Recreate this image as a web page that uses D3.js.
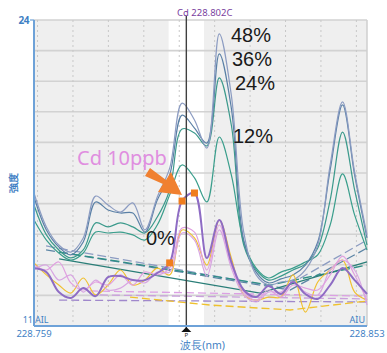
<!DOCTYPE html>
<html><head><meta charset="utf-8">
<script src="https://cdn.jsdelivr.net/npm/d3@7"></script>
<style>
html,body{margin:0;padding:0;background:#fff;}
svg{display:block;font-family:"Noto Sans","DejaVu Sans",sans-serif;}
</style></head>
<body><svg id="chart" width="387" height="353"></svg>
<script>
// ---- data ----
const wavelengths = [228.7590, 228.7625, 228.7660, 228.7694, 228.7729, 228.7764, 228.7799, 228.7834, 228.7869, 228.7903, 228.7938, 228.7973, 228.8008, 228.8043, 228.8078, 228.8113, 228.8147, 228.8182, 228.8217, 228.8252, 228.8287, 228.8321, 228.8356, 228.8391, 228.8426, 228.8461, 228.8495, 228.8530];

const std48 = [16.65,15.21,14.44,14.14,14.74,16.52,16.14,15.84,16.23,15.08,16.48,17.71,20.47,19.75,18.56,23.41,20.81,14.99,13.17,12.74,12.87,12.95,13.38,14.44,17.84,20.52,17.54,14.87];
const std36 = [16.48,15.08,14.36,14.02,14.57,16.27,15.93,15.80,15.80,14.99,16.35,17.42,19.96,19.41,18.77,22.56,20.26,14.65,13.29,12.83,13.00,13.17,13.59,14.57,17.63,20.39,17.42,14.74];
const std24 = [16.14,14.87,14.23,13.89,14.23,15.38,15.21,15.38,15.21,14.95,15.63,16.78,19.37,19.20,18.65,21.54,19.54,14.44,13.38,12.95,13.12,13.38,13.63,14.31,16.35,19.24,16.78,14.44];
const std12 = [15.50,14.65,14.10,13.80,14.10,14.99,14.95,14.99,14.87,14.65,15.29,16.57,17.84,17.29,16.27,19.03,17.42,14.57,13.46,13.04,13.29,13.46,13.72,14.02,15.29,17.46,15.72,14.23];
const zeroPurple = [13.46,13.29,12.44,12.19,12.61,12.27,13.08,13.12,12.95,12.95,13.25,13.68,16.31,16.65,13.89,15.50,13.72,12.53,12.23,12.70,12.36,12.87,12.36,12.15,12.74,13.46,12.95,12.36];
const zeroPinkA = [13.59,13.38,13.72,12.83,12.53,12.87,12.74,13.17,12.74,13.29,13.17,13.46,15.16,14.99,13.38,15.29,13.59,12.44,12.10,12.53,12.23,12.74,12.61,12.53,13.17,13.97,13.17,12.10];
const zeroPinkB = [13.38,13.59,12.95,13.17,12.44,12.95,12.53,12.61,12.95,12.83,13.29,13.29,14.95,14.65,13.12,15.08,13.46,12.32,12.02,12.44,12.44,12.87,12.44,12.32,13.38,13.80,13.38,11.89];
const zeroYellow = [13.68,13.17,12.74,12.40,13.04,12.32,12.74,13.38,12.74,12.95,13.46,13.17,15.08,14.74,13.59,15.50,13.89,12.32,12.10,12.23,12.23,13.17,11.59,12.87,13.38,13.80,12.44,12.10];

// background-correction lines: [wavelength, intensity]
const bg48 = [[228.7624,14.40],[228.8293,12.61],[228.8530,14.65]];
const bg36 = [[228.7624,14.23],[228.8313,12.53],[228.8530,14.31]];
const bg24 = [[228.7661,14.14],[228.8256,12.74],[228.8530,13.59]];
const bg12 = [[228.7661,13.85],[228.8228,12.40],[228.8530,13.72]];
const bgPurple = [[228.7661,12.10],[228.8530,12.02]];
const bgPinkA = [[228.7748,12.49],[228.8530,12.27]];
const bgPinkB = [[228.7776,12.32],[228.8530,12.15]];
const bgYellow = [[228.7861,12.23],[228.8087,11.89],[228.8313,11.68],[228.8530,12.06]];

const markedIdx = [11, 12, 13];
const xDomain = [228.759, 228.853];
const xTickLabels = ["228.759", "228.853"];
const yDomain = [11, 24];
const yTickLabels = ["11", "24"];
const gridWavelengths = [228.76,228.77,228.78,228.79,228.80,228.81,228.82,228.83,228.84,228.85];
const clearBand = [228.797, 228.807];
const analyteLine = 228.802;

// ---- layout ----
const svg = d3.select("#chart");
const L = 34, R = 367, T = 20, B = 326;
const x = d3.scaleLinear().domain(xDomain).range([L, R]);
const y = d3.scaleLinear().domain(yDomain).range([B, T]);

// background
svg.append("rect").attr("x", L).attr("y", T).attr("width", R - L).attr("height", B - T).attr("fill", "#efefef");
svg.append("rect").attr("x", x(clearBand[0])).attr("y", T).attr("width", x(clearBand[1]) - x(clearBand[0])).attr("height", B - T).attr("fill", "#ffffff");

// horizontal grid (10 divisions)
const hg = d3.range(0, 11).map(i => yDomain[0] + i * (yDomain[1] - yDomain[0]) / 10);
svg.append("g").selectAll("line").data(hg).join("line")
  .attr("x1", L).attr("x2", R).attr("y1", d => y(d)).attr("y2", d => y(d))
  .attr("stroke", "#d2d2d2").attr("stroke-width", 1.6);
// vertical dashed grid
svg.append("g").selectAll("line").data(gridWavelengths).join("line")
  .attr("x1", d => x(d)).attr("x2", d => x(d)).attr("y1", T).attr("y2", B)
  .attr("stroke", "#c8c8c8").attr("stroke-width", 1).attr("stroke-dasharray", "2,3");
svg.append("line").attr("x1", R).attr("x2", R).attr("y1", T).attr("y2", B).attr("stroke", "#cfcfcf").attr("stroke-width", 1.5);

const line = d3.line().x(d => x(d[0])).y(d => y(d[1])).curve(d3.curveCatmullRom.alpha(0.5));
const straight = d3.line().x(d => x(d[0])).y(d => y(d[1]));
const pts = arr => arr.map((v, i) => [wavelengths[i], v]);

// background correction lines
const bgs = [
  {d: bg48, c: "#8c9cc2", dash: "9,4"},
  {d: bg36, c: "#5d86a6", dash: "9,4"},
  {d: bg24, c: "#2f8f86", dash: "9,4"},
  {d: bg12, c: "#2a7e78", dash: null},
  {d: bgPinkA, c: "#dca0e4", dash: "8,4"},
  {d: bgPinkB, c: "#c9a0dc", dash: "8,4"},
  {d: bgPurple, c: "#a088cc", dash: "8,4"},
  {d: bgYellow, c: "#efc12e", dash: "8,4"}
];
bgs.forEach(s => {
  const p = svg.append("path").attr("d", straight(s.d)).attr("fill", "none")
    .attr("stroke", s.c).attr("stroke-width", 1.3);
  if (s.dash) p.attr("stroke-dasharray", s.dash);
});

// spectra
const series = [
  {v: std12, c: "#3a9e8c", w: 1.2},
  {v: std24, c: "#3c9a8c", w: 1.2},
  {v: std36, c: "#5a80a6", w: 1.2},
  {v: std48, c: "#8c9cc2", w: 1.2},
  {v: zeroYellow, c: "#f0c030", w: 1.2},
  {v: zeroPinkB, c: "#d8a6e2", w: 1.2},
  {v: zeroPinkA, c: "#e0a0e0", w: 1.2},
  {v: zeroPurple, c: "#8e6cc4", w: 2}
];
series.forEach(s => {
  svg.append("path").attr("d", line(pts(s.v))).attr("fill", "none")
    .attr("stroke", s.c).attr("stroke-width", s.w).attr("stroke-linejoin", "round");
});

// analyte marker line
svg.append("line").attr("x1", x(analyteLine)).attr("x2", x(analyteLine)).attr("y1", T - 4).attr("y2", B + 4)
  .attr("stroke", "#404040").attr("stroke-width", 1.4);
const mx = x(analyteLine);
svg.append("path").attr("d", `M${mx - 5},${B + 6}L${mx + 5},${B + 6}L${mx},${B + 1}Z`).attr("fill", "#111");
svg.append("text").attr("x", mx).attr("y", B + 10.5).attr("text-anchor", "middle").attr("font-size", 6).attr("fill", "#222").text("P");

// axes
svg.append("line").attr("x1", L).attr("x2", L).attr("y1", T).attr("y2", B).attr("stroke", "#6ea2d8").attr("stroke-width", 2);
svg.append("line").attr("x1", L).attr("x2", R).attr("y1", B).attr("y2", B).attr("stroke", "#6ea2d8").attr("stroke-width", 2);
svg.append("line").attr("x1", L - 4).attr("x2", L).attr("y1", y(+yTickLabels[1])).attr("y2", y(+yTickLabels[1])).attr("stroke", "#6ea2d8").attr("stroke-width", 1.2);

const blue = "#3f7fc4";
svg.append("text").attr("x", L - 5).attr("y", y(+yTickLabels[1]) + 3.5).attr("text-anchor", "end").attr("font-size", 10).attr("fill", blue).attr("font-weight", "bold").attr("letter-spacing", -0.5).text(yTickLabels[1]);
svg.append("text").attr("x", L - 1).attr("y", y(+yTickLabels[0]) - 3).attr("text-anchor", "end").attr("font-size", 9).attr("fill", blue).text(yTickLabels[0]);
svg.append("text").attr("x", L + 1).attr("y", y(+yTickLabels[0]) - 3).attr("font-size", 9).attr("fill", blue).text("AIL");
svg.append("text").attr("x", R - 2).attr("y", y(+yTickLabels[0]) - 3).attr("text-anchor", "end").attr("font-size", 9).attr("fill", blue).text("AIU");
svg.append("text").attr("x", x(xDomain[0])).attr("y", B + 11).attr("text-anchor", "middle").attr("font-size", 9.5).attr("fill", blue).text(xTickLabels[0]);
svg.append("text").attr("x", x(xDomain[1])).attr("y", B + 11).attr("text-anchor", "middle").attr("font-size", 9.5).attr("fill", blue).text(xTickLabels[1]);
svg.append("text").attr("x", mx - 6).attr("y", B + 23).attr("font-size", 10.5).attr("fill", blue).text("波長(nm)");
svg.append("text").attr("transform", "translate(17,183) rotate(-90)").attr("text-anchor", "middle").attr("font-size", 10).attr("font-weight", "bold").attr("fill", blue).text("強度");
svg.append("text").attr("x", 177).attr("y", 16).attr("font-size", 9.5).attr("fill", "#7a3fa0").text("Cd 228.802C");

// annotations
const ann = [
  {t: "48%", x: 231, y: 42}, {t: "36%", x: 232, y: 66}, {t: "24%", x: 235, y: 90},
  {t: "12%", x: 233, y: 143}, {t: "0%", x: 146, y: 245}
];
svg.append("g").selectAll("text").data(ann).join("text")
  .attr("x", d => d.x).attr("y", d => d.y).attr("font-size", 20)
  .attr("font-family", "'Liberation Sans', Arial, sans-serif").attr("fill", "#1a1a1a").text(d => d.t);
svg.append("text").attr("x", 77).attr("y", 165).attr("font-size", 20).attr("fill", "#e08ee0").text("Cd 10ppb");

// orange arrow
svg.append("path").attr("d", "M145,176 L150,168 L166,180 L171,172 L182,195 L158,192 L163,184 Z").attr("fill", "#f08030");

// orange markers on the Cd line
svg.append("g").selectAll("rect").data(markedIdx).join("rect")
  .attr("x", d => x(wavelengths[d]) - 3.5).attr("y", d => y(zeroPurple[d]) - 3.5)
  .attr("width", 7).attr("height", 7).attr("fill", "#f07e1e");
</script></body></html>
